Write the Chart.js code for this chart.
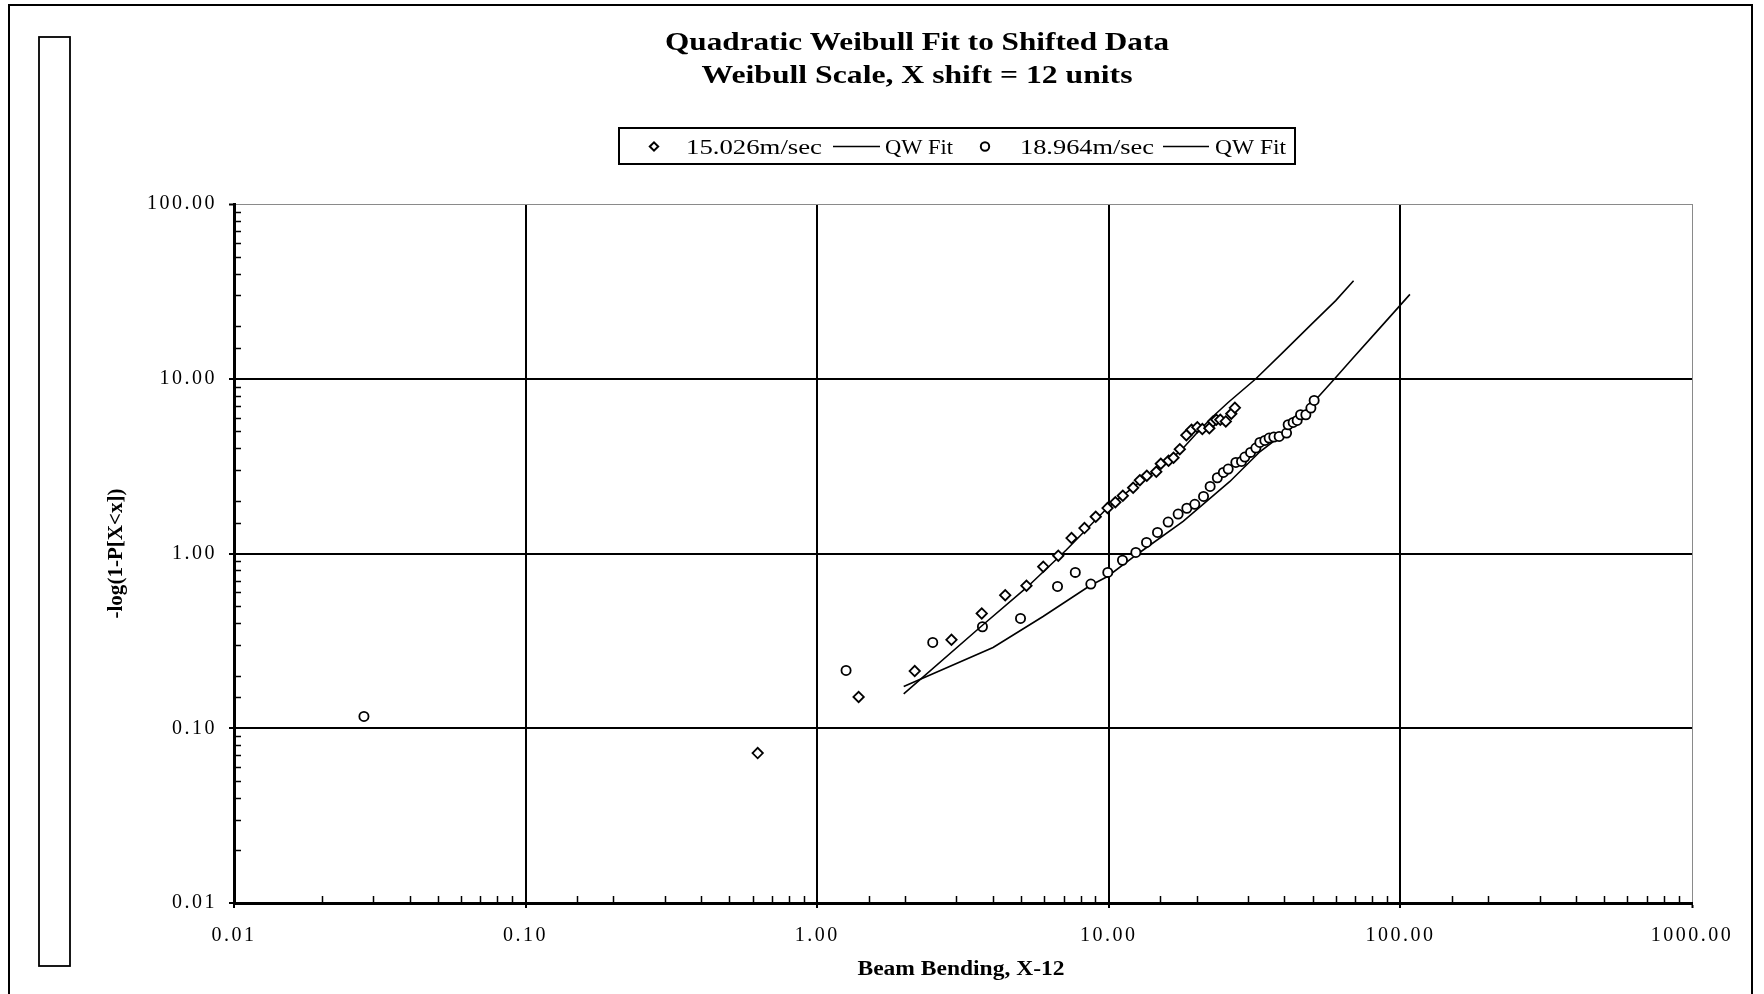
<!DOCTYPE html>
<html>
<head>
<meta charset="utf-8">
<script src="https://cdn.jsdelivr.net/npm/chart.js@4.4.1/dist/chart.umd.min.js"></script>
<style>
  html, body { margin: 0; padding: 0; background: #fff; }
  canvas { display: block; }
</style>
</head>
<body>
<canvas id="chart" width="1764" height="994" style="width:1764px;height:994px"></canvas>
<script>
// Titles and labels
const titleLines = ['Quadratic Weibull Fit to Shifted Data', 'Weibull Scale, X shift = 12 units'];
const xAxisTitle = 'Beam Bending, X-12';
const yAxisTitle = '-log(1-P[X<x])';
const seriesNames = ['15.026m/sec', 'QW Fit', '18.964m/sec', 'QW Fit'];

// Axis decades (labelled ticks)
const xDecades = [0.01, 0.1, 1, 10, 100, 1000];
const yDecades = [0.01, 0.1, 1, 10, 100];

// 15.026 m/sec observations
const lowX = [0.625, 1.387, 2.160, 2.887, 3.667, 4.414, 5.22, 5.96, 6.71, 7.45, 8.25, 9.02, 9.90, 10.53,
  11.17, 12.12, 12.78, 13.50, 14.55, 15.08, 16.03, 16.67, 17.52, 18.45, 19.22, 20.12, 20.93, 22.12,
  22.79, 23.37, 24.12, 25.19, 26.31, 27.06];
const lowY = [0.0721, 0.151, 0.2125, 0.3209, 0.4538, 0.577, 0.654, 0.840, 0.971, 1.226, 1.398, 1.623, 1.820, 1.965,
  2.141, 2.378, 2.626, 2.786, 2.937, 3.263, 3.395, 3.531, 3.951, 4.751, 5.108, 5.279, 5.155, 5.209,
  5.698, 5.827, 5.827, 5.698, 6.305, 6.823];

// Quadratic Weibull fit, 15.026 m/sec
const lowFitX = [1.98, 3.705, 5.22, 7.16, 9.9, 12.78, 17.52, 20.52, 23.1, 25.6, 31.94, 39.63, 50.0, 60.0, 69.1];
const lowFitY = [0.1575, 0.391, 0.637, 1.05, 1.827, 2.573, 3.822, 5.108, 6.223, 7.29, 10.0, 14.2, 20.8, 28.0, 36.4];

// 18.964 m/sec observations
const highX = [0.0279, 1.256, 2.490, 3.687, 4.98, 6.67, 7.675, 8.677, 9.92, 11.14, 12.38, 13.47, 14.69, 15.98,
  17.29, 18.52, 19.72, 21.13, 22.26, 23.56, 24.71, 25.67, 27.27, 28.52, 29.28, 30.63, 31.94, 32.96,
  34.29, 35.47, 36.81, 38.39, 40.70, 41.22, 42.88, 44.26, 45.46, 47.40, 49.32, 50.61];
const highY = [0.1168, 0.2142, 0.3097, 0.3809, 0.4249, 0.6477, 0.7793, 0.6686, 0.7793, 0.915, 1.014, 1.157, 1.320, 1.514,
  1.682, 1.815, 1.913, 2.121, 2.419, 2.713, 2.910, 3.043, 3.319, 3.363, 3.564, 3.788, 4.013, 4.320,
  4.435, 4.578, 4.638, 4.675, 4.890, 5.455, 5.622, 5.773, 6.223, 6.223, 6.797, 7.514];

// Quadratic Weibull fit, 18.964 m/sec
const highFitX = [1.98, 4.01, 5.95, 8.61, 9.9, 12.45, 17.98, 26.02, 32.96, 40.7, 51.6, 59.6, 68.9, 82.9, 99.6, 107.8];
const highFitY = [0.1735, 0.29, 0.436, 0.654, 0.739, 0.984, 1.525, 2.584, 3.822, 4.994, 7.68, 10.04, 13.2, 18.6, 26.2, 30.4];

const pairs = (xs, ys) => xs.map((x, i) => ({ x, y: ys[i] }));
const isDecade = v => v > 0 && Math.abs(Math.log10(v) - Math.round(Math.log10(v))) < 1e-6;

const TICK_FONT = "'Liberation Serif', 'Times New Roman', serif";
const TICK_SPACING = '2.5px';

// Draws a text line stretched horizontally to a given width
function wideText(ctx, text, x, y, font, width, align, rotate) {
  ctx.save();
  ctx.letterSpacing = '0px';
  ctx.font = font;
  const w = ctx.measureText(text).width;
  ctx.translate(x, y);
  if (rotate) ctx.rotate(-Math.PI / 2);
  ctx.scale(width / w, 1);
  ctx.textAlign = align;
  ctx.textBaseline = rotate ? 'middle' : 'alphabetic';
  ctx.fillStyle = '#000';
  ctx.fillText(text, 0, 0);
  ctx.restore();
}

const decorations = {
  id: 'decorations',
  beforeUpdate(chart) { chart.ctx.letterSpacing = TICK_SPACING; },
  beforeDraw(chart) {
    const ctx = chart.ctx;
    ctx.save();
    ctx.fillStyle = '#fff';
    ctx.fillRect(0, 0, chart.width, chart.height);
    ctx.restore();
    ctx.letterSpacing = TICK_SPACING;
  },
  afterDraw(chart) {
    const ctx = chart.ctx;
    const xs = chart.scales.x, ys = chart.scales.y;
    const area = chart.chartArea;
    ctx.save();
    // minor ticks pointing into the plot
    ctx.strokeStyle = '#000';
    ctx.lineWidth = 1.5;
    ctx.beginPath();
    xs.ticks.forEach(t => {
      if (isDecade(t.value)) return;
      const px = Math.round(xs.getPixelForValue(t.value)) + 0.5;
      ctx.moveTo(px, area.bottom);
      ctx.lineTo(px, area.bottom - 7);
    });
    ys.ticks.forEach(t => {
      if (isDecade(t.value)) return;
      const py = Math.round(ys.getPixelForValue(t.value)) + 0.5;
      ctx.moveTo(area.left, py);
      ctx.lineTo(area.left + 7, py);
    });
    ctx.stroke();

    // outer frame
    ctx.lineWidth = 2;
    ctx.beginPath();
    ctx.moveTo(9, 994);
    ctx.lineTo(9, 5);
    ctx.lineTo(1752, 5);
    ctx.lineTo(1752, 994);
    ctx.stroke();
    // empty side panel
    ctx.lineWidth = 1.8;
    ctx.fillStyle = '#fff';
    ctx.fillRect(39, 37, 31, 929);
    ctx.strokeRect(39, 37, 31, 929);

    // titles
    wideText(ctx, titleLines[0], 917, 50, "bold 26px 'Liberation Serif', serif", 504, 'center');
    wideText(ctx, titleLines[1], 917, 83, "bold 26px 'Liberation Serif', serif", 431, 'center');
    wideText(ctx, xAxisTitle, 961, 975, "bold 20px 'Liberation Serif', serif", 207, 'center');
    wideText(ctx, yAxisTitle, 117, 553.5, "bold 20px 'Liberation Serif', serif", 130, 'center', true);

    // legend
    ctx.lineWidth = 2;
    ctx.strokeStyle = '#000';
    ctx.strokeRect(619, 128, 676, 36);
    const ly = 146.5;
    const ds = chart.data.datasets;
    const mark = (d, x) => {
      ctx.save();
      ctx.fillStyle = '#fff';
      ctx.strokeStyle = d.pointBorderColor;
      Chart.helpers.drawPoint(ctx, { pointStyle: d.pointStyle, rotation: 0, radius: 4.2, borderWidth: 1.8 }, x, ly);
      ctx.restore();
    };
    const seg = (d, x1, x2) => {
      ctx.save();
      ctx.strokeStyle = d.borderColor;
      ctx.lineWidth = d.borderWidth;
      ctx.beginPath();
      ctx.moveTo(x1, ly);
      ctx.lineTo(x2, ly);
      ctx.stroke();
      ctx.restore();
    };
    const lf = "20px 'Liberation Serif', serif";
    mark(ds[0], 654);
    wideText(ctx, seriesNames[0], 686, 153.5, lf, 136, 'left');
    seg(ds[1], 833, 880);
    wideText(ctx, seriesNames[1], 885, 153.5, lf, 68, 'left');
    mark(ds[2], 985);
    wideText(ctx, seriesNames[2], 1020, 153.5, lf, 134, 'left');
    seg(ds[3], 1163, 1209);
    wideText(ctx, seriesNames[3], 1215, 153.5, lf, 71, 'left');
    ctx.restore();
  }
};

const markerStyle = {
  showLine: false,
  backgroundColor: '#fff',
  borderColor: '#000',
  pointBackgroundColor: '#fff',
  pointBorderColor: '#000',
  pointBorderWidth: 1.8,
};
const fitStyle = {
  type: 'line',
  showLine: true,
  borderColor: '#000',
  borderWidth: 1.6,
  pointRadius: 0,
  pointHoverRadius: 0,
  tension: 0,
  fill: false,
};

const gridColor = c => {
  const v = c.tick && c.tick.value;
  if (!isDecade(v)) return 'rgba(0,0,0,0)';
  return (c.scale.axis === 'x' && v === 1000) || (c.scale.axis === 'y' && v === 100) ? '#8a8a8a' : '#000';
};
const gridWidth = c => {
  const v = c.tick && c.tick.value;
  return (c.scale.axis === 'x' && v === 1000) || (c.scale.axis === 'y' && v === 100) ? 1 : 2;
};
const tickColor = c => (c.tick && isDecade(c.tick.value)) ? '#000' : 'rgba(0,0,0,0)';
const decadeLabel = v => isDecade(v) ? Number(v).toFixed(2) : '';

new Chart(document.getElementById('chart'), {
  type: 'scatter',
  data: {
    datasets: [
      Object.assign({ label: seriesNames[0], data: pairs(lowX, lowY), pointStyle: 'rectRot', pointRadius: 5.2 }, markerStyle),
      Object.assign({ label: seriesNames[1], data: pairs(lowFitX, lowFitY) }, fitStyle),
      Object.assign({ label: seriesNames[2], data: pairs(highX, highY), pointStyle: 'circle', pointRadius: 4.6 }, markerStyle),
      Object.assign({ label: seriesNames[3], data: pairs(highFitX, highFitY) }, fitStyle),
    ]
  },
  options: {
    responsive: false,
    animation: false,
    events: [],
    layout: { padding: { top: 204, right: 72, left: 0, bottom: 0 } },
    plugins: { legend: { display: false }, title: { display: false }, tooltip: { enabled: false } },
    scales: {
      x: {
        type: 'logarithmic',
        min: xDecades[0],
        max: xDecades[xDecades.length - 1],
        afterFit: s => { s.height = 91; },
        border: { color: '#000', width: 3 },
        grid: { color: gridColor, lineWidth: gridWidth, tickColor: tickColor, tickLength: 5, tickWidth: 2 },
        ticks: {
          autoSkip: false, maxRotation: 0, padding: 16, color: '#000',
          font: { family: TICK_FONT, size: 20 },
          callback: decadeLabel
        }
      },
      y: {
        type: 'logarithmic',
        min: yDecades[0],
        max: yDecades[yDecades.length - 1],
        afterFit: s => { s.width = 234; },
        border: { color: '#000', width: 3 },
        grid: { color: gridColor, lineWidth: gridWidth, tickColor: tickColor, tickLength: 5, tickWidth: 2 },
        ticks: {
          autoSkip: false, padding: 12, color: '#000',
          font: { family: TICK_FONT, size: 20 },
          callback: decadeLabel
        }
      }
    }
  },
  plugins: [decorations]
});
</script>
</body>
</html>
